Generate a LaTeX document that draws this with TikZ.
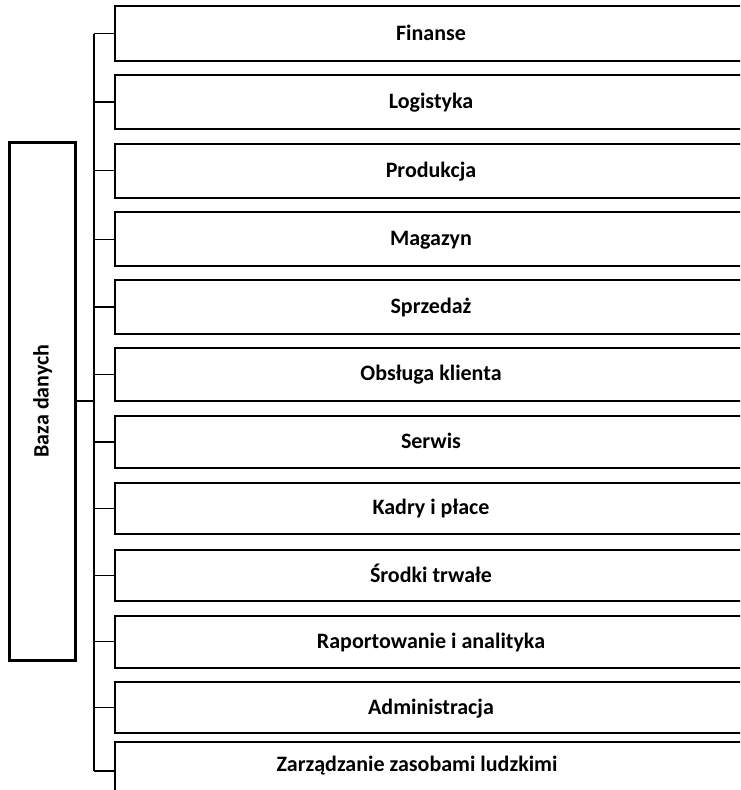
\documentclass[tikz,border=0pt]{standalone}
\usepackage{fontspec}
\setmainfont{Carlito}
\begin{document}
\begin{tikzpicture}[x=1pt,y=-1pt,
  box/.style={draw=black, line width=2pt, fill=white, inner sep=0pt, minimum width=632pt,
    font=\fontsize{22}{26}\selectfont\bfseries, text height=16pt, text depth=3pt, anchor=north west},
  lbl/.style={inner sep=0pt, font=\fontsize{22}{26}\selectfont\bfseries, text height=16pt, text depth=3pt},
  mainbox/.style={draw=black, line width=3pt, inner sep=0pt, rotate=90, minimum width=518pt, minimum height=66pt,
    font=\fontsize{22}{26}\selectfont\bfseries, text height=16pt, text depth=3pt},
  spine/.style={draw=black, line width=2pt},
  tick/.style={draw=black, line width=1.4pt},
  link/.style={draw=black, line width=2.6pt}]
\clip (0,0) rectangle (740,790);
\fill[white] (0,0) rectangle (740,790);
\newcommand\mybox[4]{\node[box, minimum height={(#3-#2)*1pt}] (#1) at (114,#2) {#4};}
\mybox{b1}{5.3}{59.7}{Finanse}
\mybox{b2}{74}{128}{Logistyka}
\mybox{b3}{142.7}{196.7}{Produkcja}
\mybox{b4}{211.3}{265.3}{Magazyn}
\mybox{b5}{279.3}{332.7}{Sprzedaż}
\mybox{b6}{346.7}{399.7}{Obsługa klienta}
\mybox{b7}{414.7}{467}{Serwis}
\mybox{b8}{481.7}{532.7}{Kadry i płace}
\mybox{b9}{548.7}{600.3}{Środki trwałe}
\mybox{b10}{614.7}{666.7}{Raportowanie i analityka}
\mybox{b11}{680.7}{732.3}{Administracja}
\node[box, minimum height=70pt] (b12) at (114,741.3) {};
\node[lbl] (t12) at (417,764.5) {Zarządzanie zasobami ludzkimi};
\node[mainbox] (baza) at (42,401) {Baza danych};
\coordinate (sp) at (94,0);
\coordinate (endpt) at (94,771);
\draw[spine] (b1.west -| sp) -- (endpt);
\foreach \i in {1,...,11} {\draw[tick] (b\i.west -| sp) -- (b\i.west);}
\draw[tick] (endpt) -- (endpt -| b12.west);
\draw[link] (baza.south) -- (baza.south -| sp);
\end{tikzpicture}
\end{document}
